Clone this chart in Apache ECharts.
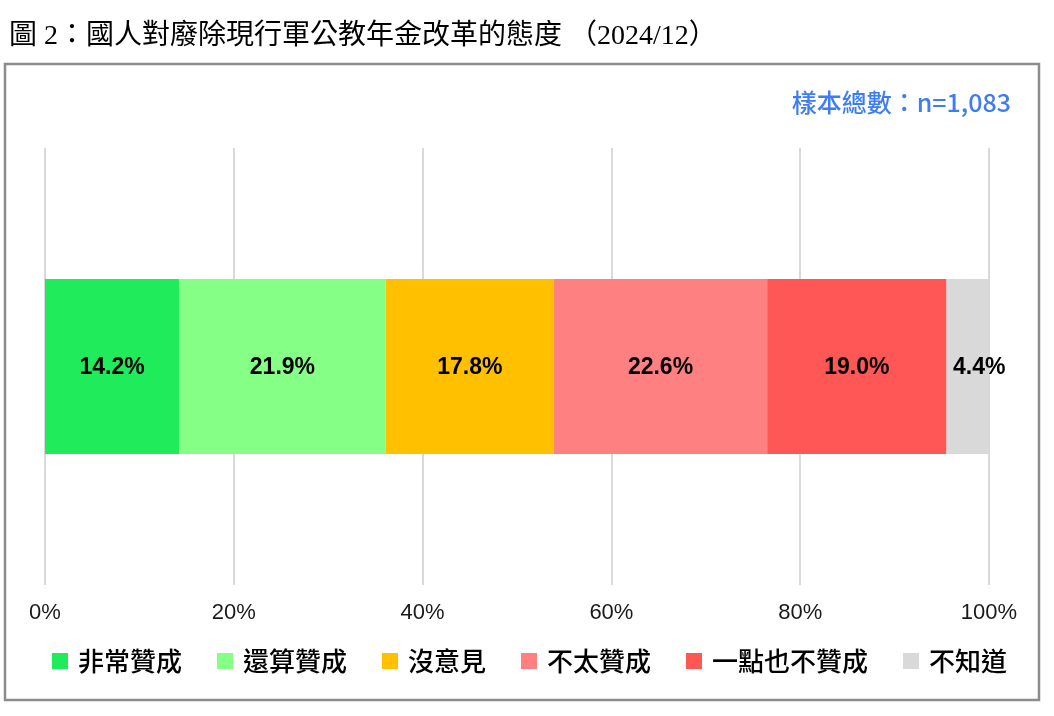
<!DOCTYPE html>
<html>
<head>
<meta charset="utf-8">
<script src="https://cdn.jsdelivr.net/npm/echarts@6/dist/echarts.min.js"></script>
<style>
  html, body { margin: 0; padding: 0; background: #fff; }
  #main { width: 1054px; height: 716px; }
</style>
</head>
<body>
<div id="main"></div>
<script>
// 資料
var categories = ['態度'];
var seriesNames = ['非常贊成', '還算贊成', '沒意見', '不太贊成', '一點也不贊成', '不知道'];
var seriesValues = [14.2, 21.9, 17.8, 22.6, 19.0, 4.4];
var seriesColors = ['#20eb5a', '#86ff86', '#ffc000', '#ff8080', '#ff5656', '#d9d9d9'];
var xTicks = [0, 20, 40, 60, 80, 100];

var myChart = echarts.init(document.getElementById('main'));

var series = seriesNames.map(function (name, i) {
    return {
        name: name,
        type: 'bar',
        stack: 'total',
        barWidth: 175,
        data: [seriesValues[i]],
        itemStyle: { color: seriesColors[i] },
        label: {
            show: true,
            position: 'inside',
            // 最後一段太窄，標籤往右偏
            offset: i === seriesNames.length - 1 ? [12, 1] : [0, 1],
            formatter: function (p) { return p.value.toFixed(1) + '%'; },
            color: '#000',
            fontSize: 23,
            fontWeight: 'bold',
            fontFamily: 'Liberation Sans, Arial, sans-serif'
        }
    };
});

var option = {
    animation: false,
    title: [
        {
            text: '圖 2：國人對廢除現行軍公教年金改革的態度 （2024/12）',
            left: 4,
            top: 18,
            textStyle: {
                fontSize: 28,
                fontWeight: 'normal',
                color: '#000',
                fontFamily: 'Liberation Serif, Noto Sans CJK TC, serif'
            }
        },
        {
            text: '樣本總數：n=1,083',
            right: 38,
            top: 85,
            textStyle: {
                fontSize: 25,
                fontWeight: 500,
                color: '#3d7cf5',
                fontFamily: 'Noto Sans CJK TC, sans-serif'
            }
        }
    ],
    graphic: [
        {
            type: 'rect',
            shape: { x: 5, y: 64, width: 1034, height: 636 },
            style: { fill: 'none', stroke: '#8c8c8c', lineWidth: 2.5 },
            z: -1
        }
    ],
    grid: {
        left: 45,
        right: 65,
        top: 148,
        bottom: 131
    },
    legend: {
        data: seriesNames,
        left: 47,
        top: 643,
        itemWidth: 16,
        itemHeight: 16,
        itemGap: 35,
        icon: 'rect',
        textStyle: {
            fontSize: 26,
            fontWeight: 500,
            color: '#000',
            padding: [0, 0, 0, 5],
            fontFamily: 'Noto Sans CJK TC, sans-serif'
        }
    },
    xAxis: {
        type: 'value',
        min: 0,
        max: 100,
        interval: 20,
        axisLine: { show: false },
        axisTick: { show: false },
        splitLine: { show: true, lineStyle: { color: '#d9d9d9', width: 2 } },
        axisLabel: {
            margin: 17,
            fontSize: 22,
            color: '#1a1a1a',
            fontFamily: 'Liberation Sans, Arial, sans-serif',
            customValues: xTicks,
            formatter: '{value}%'
        }
    },
    yAxis: {
        type: 'category',
        data: categories,
        axisLine: { show: false },
        axisTick: { show: false },
        axisLabel: { show: false }
    },
    series: series
};

myChart.setOption(option);
</script>
</body>
</html>
